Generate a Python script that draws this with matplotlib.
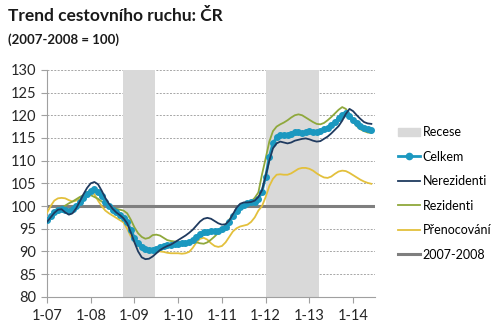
import numpy as np
import matplotlib
matplotlib.use("Agg")
import matplotlib.pyplot as plt
from matplotlib.patches import Patch
from matplotlib.lines import Line2D

plt.rcParams['font.family'] = ['Lato', 'DejaVu Sans']

# monthly index, Jan 2007 = 0
tick_labels = ['1-07', '1-08', '1-09', '1-10', '1-11', '1-12', '1-13', '1-14']
recessions = [(20.8, 29.6), (60.0, 74.5)]

celkem = [97.0, 97.8, 98.6, 99.2, 99.4, 99.2, 99.0, 99.3, 100.0, 100.9,
          101.8, 102.7, 103.4, 103.7, 103.2, 102.2, 101.0, 100.0, 99.2, 98.6,
          98.0, 97.3, 96.4, 94.8, 93.0, 91.8, 91.0, 90.6, 90.4, 90.4,
          90.6, 90.9, 91.2, 91.4, 91.5, 91.6, 91.7, 91.8, 91.9, 92.0,
          92.5, 93.2, 93.9, 94.2, 94.3, 94.4, 94.5, 94.6, 95.0, 95.4,
          96.5, 97.8, 99.0, 99.8, 100.3, 100.6, 100.8, 101.0, 101.5, 103.2,
          106.5, 110.8, 113.8, 115.2, 115.7, 115.7, 115.6, 115.9, 116.3, 116.4,
          116.2, 116.3, 116.5, 116.4, 116.3, 116.5, 116.9, 117.3, 117.8, 118.6,
          119.3, 120.0, 120.6, 119.9, 118.9, 118.2, 117.7, 117.2, 116.9, 116.7]

nerezidenti = [96.5, 97.5, 98.5, 99.2, 99.3, 98.6, 98.1, 98.4, 99.5, 101.0,
               102.6, 104.0, 105.0, 105.3, 104.8, 103.4, 101.8, 100.5, 99.4, 98.6,
               98.0, 97.3, 96.2, 94.2, 92.0, 90.0, 88.7, 88.3, 88.4, 88.9,
               89.6, 90.3, 90.8, 91.2, 91.5, 92.0, 92.5, 93.0, 93.5, 94.1,
               94.8, 95.7, 96.6, 97.2, 97.4, 97.2, 96.7, 96.2, 95.9, 96.0,
               96.8, 98.2, 99.6, 100.5, 100.8, 100.8, 100.9, 101.2, 102.0, 103.5,
               106.6, 110.0, 112.7, 113.8, 114.2, 114.0, 113.8, 114.0, 114.4, 114.6,
               114.8, 114.9, 114.7, 114.4, 114.2, 114.3, 114.8, 115.3, 116.0, 116.8,
               117.6, 118.8, 120.3, 121.4, 120.9, 120.0, 119.2, 118.5, 118.2, 118.1]

rezidenti = [96.3, 97.2, 98.2, 99.1, 99.6, 100.1, 100.6, 101.0, 101.5, 102.0,
             102.4, 102.6, 102.4, 102.0, 101.6, 101.0, 100.4, 100.0, 99.6, 99.4,
             99.2, 99.0, 98.4, 97.0, 95.3, 94.0, 93.2, 92.8, 93.0, 93.6,
             93.7, 93.5, 93.0, 92.5, 92.3, 92.2, 92.1, 92.0, 92.0, 92.1,
             92.0, 92.0, 91.8, 91.7, 92.0, 92.6, 93.3, 94.1, 94.9, 95.9,
             97.0, 98.0, 98.8, 99.4, 99.8, 100.3, 101.0, 101.8, 103.0, 107.0,
             110.5, 114.2, 116.5, 117.5, 118.0, 118.4, 118.9, 119.5, 120.0, 120.2,
             120.0, 119.5, 119.0, 118.5, 118.1, 118.0, 118.3, 118.9, 119.6, 120.4,
             121.2, 121.8, 121.4, 120.0, 118.6, 117.6, 116.9, 116.5, 116.2, 116.1]

prenocovani = [98.5, 100.0, 101.2, 101.7, 101.8, 101.7, 101.3, 101.0, 101.2, 101.7,
               102.4, 103.1, 103.3, 102.6, 101.2, 100.0, 99.0, 98.4, 97.9, 97.4,
               96.9, 96.4, 95.0, 93.3, 92.1, 91.2, 90.8, 90.5, 90.3, 90.2,
               90.1, 90.0, 89.9, 89.7, 89.6, 89.6, 89.6, 89.5, 89.6, 89.9,
               90.8, 92.0, 92.8, 93.0, 92.6, 91.8, 91.2, 91.0, 91.2, 92.0,
               93.2, 94.4, 95.1, 95.5, 95.7, 95.9, 96.5, 97.5, 99.0, 100.0,
               102.0, 104.4, 106.0, 106.9, 107.0, 106.9, 106.9, 107.2, 107.7, 108.2,
               108.4, 108.4, 108.2, 107.8, 107.2, 106.7, 106.3, 106.2, 106.5, 107.1,
               107.6, 107.8, 107.7, 107.3, 106.8, 106.3, 105.8, 105.4, 105.1, 104.9]

base = 100

c_rec = '#d9d9d9'
c_cel = '#1b98c0'
c_ner = '#1f3a5f'
c_rez = '#8fa83c'
c_pre = '#e3c03c'
c_base = '#7f7f7f'

fig = plt.figure(figsize=(5, 3.28), dpi=100)
ax = fig.add_axes([0.094, 0.095, 0.656, 0.692])

months = np.arange(len(celkem))
for a, b in recessions:
    ax.axvspan(a, b, color=c_rec, lw=0, zorder=1)

ax.axhline(base, color=c_base, lw=2.2, zorder=2)
ax.plot(months, prenocovani, color=c_pre, lw=1.3, zorder=3)
ax.plot(months, rezidenti, color=c_rez, lw=1.3, zorder=4)
ax.plot(months, celkem, color=c_cel, lw=2, marker='o', ms=4, mec=c_cel, zorder=5)
ax.plot(months, nerezidenti, color=c_ner, lw=1.3, zorder=6)

ax.set_xlim(0, 90)
ax.set_ylim(80, 130)
ax.set_yticks(range(80, 131, 5))
ax.set_xticks(range(0, 85, 12))
ax.set_xticklabels(tick_labels)
ax.yaxis.grid(True, ls=(0, (2, 1.5)), color='#a6a6a6', lw=0.7)
ax.set_axisbelow(True)
for s in ['top', 'right']:
    ax.spines[s].set_visible(False)
for s in ['left', 'bottom']:
    ax.spines[s].set_color('#a0a0a0')
ax.tick_params(axis='both', colors='#a0a0a0', labelcolor='#262626', labelsize=10.5, length=4)
ax.tick_params(axis='x', pad=5)

fig.text(0.016, 0.935, 'Trend cestovního ruchu: ČR', fontsize=12.5, fontweight='bold', color='#1a1a1a')
fig.text(0.016, 0.865, '(2007-2008 = 100)', fontsize=9.5, fontweight='bold', color='#1a1a1a')

handles = [Patch(color=c_rec),
           Line2D([], [], color=c_cel, lw=2, marker='o', ms=4.5),
           Line2D([], [], color=c_ner, lw=1.3),
           Line2D([], [], color=c_rez, lw=1.3),
           Line2D([], [], color=c_pre, lw=1.3),
           Line2D([], [], color=c_base, lw=2.2)]
labels = ['Recese', 'Celkem', 'Nerezidenti', 'Rezidenti', 'Přenocování', '2007-2008']
fig.legend(handles, labels, loc='upper left', bbox_to_anchor=(0.785, 0.63),
           frameon=False, fontsize=9, labelspacing=1.0, handlelength=1.8,
           handletextpad=0.2, borderaxespad=0)

fig.savefig('out.png', dpi=100)
